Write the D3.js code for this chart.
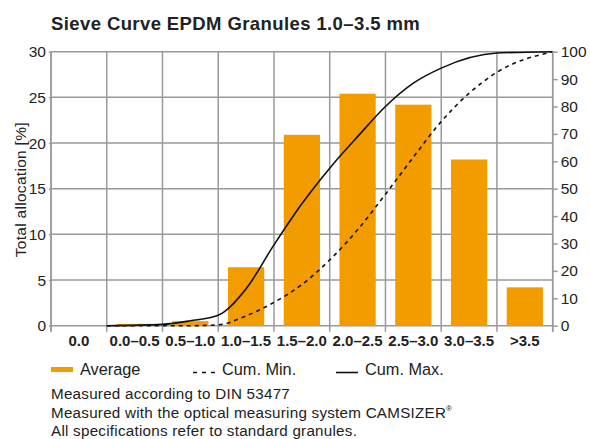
<!DOCTYPE html>
<html>
<head>
<meta charset="utf-8">
<script src="https://cdn.jsdelivr.net/npm/d3@7"></script>
<style>
  body { margin: 0; background: #fff; }
  svg { display: block; font-family: "Liberation Sans", Arial, Helvetica, sans-serif; }
</style>
</head>
<body>
<svg id="chart"></svg>
<script>
"use strict";
// grain size classes [mm] and average share [%]
var categories = ["0.0", "0.0\u20130.5", "0.5\u20131.0", "1.0\u20131.5", "1.5\u20132.0", "2.0\u20132.5", "2.5\u20133.0", "3.0\u20133.5", ">3.5"];
var average = [0, 0.2, 0.5, 6.4, 20.9, 25.4, 24.2, 18.2, 4.2];

// cumulative curves [%] read at these sieve sizes [mm]
var sieveSizes = [0.0, 0.5, 0.75, 1.0, 1.25, 1.5, 1.75, 2.0, 2.25, 2.5, 2.75, 3.0, 3.5, 4.0];
var cumMin = [0, 0, 0, 0.3, 3.6, 8.5, 15, 24, 35, 48, 61.5, 74.5, 92.5, 100];
var cumMax = [0, 0.5, 1.8, 3.8, 13.5, 29.5, 44.5, 57.5, 69, 80, 88.5, 94, 99.5, 100];

var leftTicks = [0, 5, 10, 15, 20, 25, 30];
var rightTicks = [0, 10, 20, 30, 40, 50, 60, 70, 80, 90, 100];

var notes = ["Measured according to DIN 53477",
             "Measured with the optical measuring system CAMSIZER",
             "All specifications refer to standard granules."];

var svgWidth = 590, svgHeight = 439;
var margin = {top: 51.7, right: 37.3, bottom: 113.3, left: 51};
var width = svgWidth - margin.left - margin.right;
var height = svgHeight - margin.top - margin.bottom;
var orange = "#f39c00", gridColor = "#9a9a9a", textColor = "#222";

var svg = d3.select("#chart").attr("width", svgWidth).attr("height", svgHeight);

var cellX = d3.scaleBand().domain(categories).range([margin.left, margin.left + width]).padding(0);
var barX = d3.scaleBand().domain(categories).range([margin.left, margin.left + width])
  .paddingInner(0.35).paddingOuter(0.175);
var sizeX = d3.scaleLinear().domain([-0.5, 4.0]).range([margin.left, margin.left + width]);
var yLeft = d3.scaleLinear().domain([0, 30]).range([margin.top + height, margin.top]);
var yRight = d3.scaleLinear().domain([0, 100]).range([margin.top + height, margin.top]);

// grid
var grid = svg.append("g").attr("stroke", gridColor).attr("stroke-width", 1.5);
grid.selectAll(".h").data(leftTicks).enter().append("line")
  .attr("x1", margin.left).attr("x2", margin.left + width)
  .attr("y1", function(d) { return yLeft(d); }).attr("y2", function(d) { return yLeft(d); });
var edges = categories.map(function(c) { return cellX(c); }).concat([margin.left + width]);
grid.selectAll(".v").data(edges).enter().append("line")
  .attr("x1", function(d) { return d; }).attr("x2", function(d) { return d; })
  .attr("y1", margin.top).attr("y2", margin.top + height + 6);

// bars
svg.append("g").selectAll("rect").data(average).enter().append("rect")
  .attr("x", function(d, i) { return barX(categories[i]); })
  .attr("width", barX.bandwidth())
  .attr("y", function(d) { return yLeft(d); })
  .attr("height", function(d) { return yLeft(0) - yLeft(d); })
  .attr("fill", orange);

// cumulative curves
var line = function(values) {
  return d3.line()
    .x(function(d, i) { return sizeX(sieveSizes[i]); })
    .y(function(d) { return yRight(d); })
    .curve(d3.curveMonotoneX)(values);
};
svg.append("path").attr("d", line(cumMin)).attr("fill", "none")
  .attr("stroke", "#111").attr("stroke-width", 1.6).attr("stroke-dasharray", "4,4");
svg.append("path").attr("d", line(cumMax)).attr("fill", "none")
  .attr("stroke", "#111").attr("stroke-width", 1.6);

// axes
var leftAxis = svg.append("g").attr("transform", "translate(" + margin.left + ",0)")
  .call(d3.axisLeft(yLeft).tickValues(leftTicks).tickSize(2).tickPadding(3));
var rightAxis = svg.append("g").attr("transform", "translate(" + (margin.left + width) + ",0)")
  .call(d3.axisRight(yRight).tickValues(rightTicks).tickSize(5).tickPadding(3));
[leftAxis, rightAxis].forEach(function(a) {
  a.select(".domain").attr("d", function() {
    return "M0," + margin.top + "V" + (margin.top + height + 6);
  });
  a.selectAll("path, line").attr("stroke", gridColor).attr("stroke-width", 1.5);
  a.selectAll("text").attr("fill", textColor).style("font-size", "15.5px")
    .style("font-family", "Liberation Sans, Arial, sans-serif");
});

// category labels
svg.append("g").selectAll("text").data(categories).enter().append("text")
  .attr("x", function(d) { return cellX(d) + cellX.bandwidth() / 2; })
  .attr("y", margin.top + height + 20)
  .attr("text-anchor", "middle").attr("font-weight", "bold").attr("font-size", 15)
  .attr("fill", textColor).text(function(d) { return d; });

// title and y label
svg.append("text").attr("x", margin.left).attr("y", 29.5)
  .attr("font-weight", "bold").attr("font-size", 18.5).attr("letter-spacing", 0.4)
  .attr("fill", textColor).text("Sieve Curve EPDM Granules 1.0\u20133.5 mm");
svg.append("text")
  .attr("transform", "translate(25.5," + (margin.top + height / 2 + 1) + ") rotate(-90)")
  .attr("text-anchor", "middle").attr("font-size", 15.5).attr("letter-spacing", 0.3)
  .attr("fill", textColor).text("Total allocation [%]");

// legend
var ly = 369.5;
var legend = svg.append("g").attr("font-size", 16.3).attr("fill", textColor);
legend.append("rect").attr("x", 51).attr("y", ly - 2.5).attr("width", 22).attr("height", 5).attr("fill", orange);
legend.append("text").attr("x", 80).attr("y", ly + 5).text("Average");
legend.append("line").attr("x1", 193).attr("x2", 216).attr("y1", ly + 3).attr("y2", ly + 3)
  .attr("stroke", "#111").attr("stroke-width", 1.6).attr("stroke-dasharray", "4,5");
legend.append("text").attr("x", 222).attr("y", ly + 5).text("Cum. Min.");
legend.append("line").attr("x1", 336).attr("x2", 358).attr("y1", ly + 3).attr("y2", ly + 3)
  .attr("stroke", "#111").attr("stroke-width", 1.6);
legend.append("text").attr("x", 365).attr("y", ly + 5).text("Cum. Max.");

// notes
var noteText = svg.append("g").attr("font-size", 15.2).attr("letter-spacing", 0.25).attr("fill", textColor)
  .selectAll("text").data(notes).enter().append("text")
  .attr("x", 51).attr("y", function(d, i) { return 399.3 + i * 18.4; })
  .text(function(d) { return d; });
noteText.filter(function(d, i) { return i === 1; })
  .append("tspan").attr("font-size", 8).attr("letter-spacing", 0).attr("dy", -7).text("\u00ae");
</script>
</body>
</html>
